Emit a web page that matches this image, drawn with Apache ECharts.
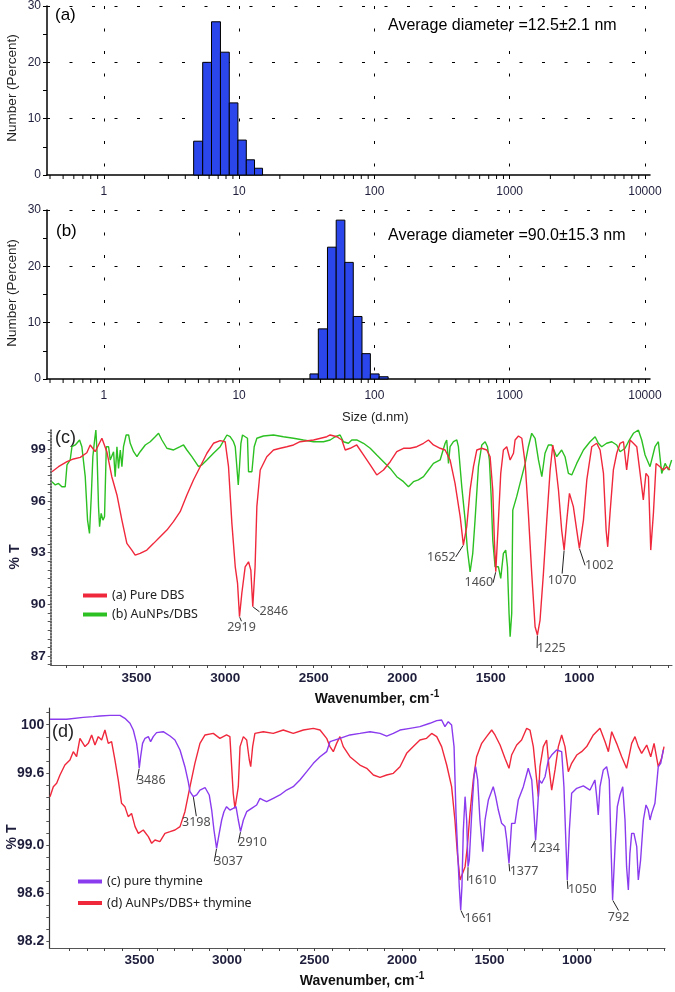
<!DOCTYPE html>
<html><head><meta charset="utf-8">
<script src="https://cdn.jsdelivr.net/npm/echarts@6.0.0/dist/echarts.min.js"></script>
<style>html,body{margin:0;padding:0;background:#fff}#c{width:675px;height:992px}</style>
</head><body><div id="c"></div>
<script>
// ---------- DATA ----------
const binEdgesA = [4.61, 5.38, 6.25, 7.28, 8.46, 9.8, 11.3, 13.0, 14.9];
const numberA   = [6.0, 20.0, 27.2, 21.8, 12.8, 6.2, 2.7, 1.2];
const binEdgesB = [33.4, 38.5, 45.0, 52.2, 60.5, 69.8, 81.0, 93.4, 108.4, 126.4];
const numberB   = [0.9, 8.9, 23.4, 28.2, 20.7, 11.1, 4.5, 0.9, 0.4];
const sizeTicks = [1, 10, 100, 1000, 10000];
const wnTicks = [3500, 3000, 2500, 2000, 1500, 1000];
const tTicksC = [87, 90, 93, 96, 99];
const tTicksD = [98.2, 98.6, 99.0, 99.6, 100];

const pureDBS = [[3978,97.70],[3941,97.99],[3893,98.28],[3856,98.44],[3818,98.53],[3781,98.80],[3762,99.25],[3734,98.86],[3696,99.64],[3668,98.86],[3640,97.41],[3611,96.35],[3583,94.89],[3555,93.54],[3527,93.15],[3508,92.86],[3480,92.96],[3442,93.15],[3404,93.54],[3367,93.93],[3329,94.31],[3292,94.80],[3254,95.38],[3216,96.35],[3179,97.22],[3141,97.99],[3103,98.77],[3066,99.35],[3028,99.50],[3000,99.44],[2981,97.99],[2962,94.70],[2943,92.18],[2930,91.22],[2919,89.28],[2906,90.63],[2887,92.18],[2868,92.47],[2855,91.99],[2844,89.86],[2831,92.18],[2821,95.67],[2802,97.80],[2765,98.57],[2727,98.96],[2689,99.06],[2652,99.15],[2614,99.25],[2577,99.44],[2501,99.54],[2426,99.73],[2407,99.83],[2369,99.73],[2341,99.54],[2322,98.96],[2294,99.06],[2257,99.25],[2219,98.67],[2181,98.09],[2144,97.51],[2106,97.80],[2068,98.28],[2031,98.86],[1993,99.06],[1956,99.06],[1918,99.15],[1880,99.35],[1852,99.54],[1824,99.25],[1786,99.06],[1758,98.96],[1730,98.38],[1702,97.02],[1673,95.09],[1655,93.44],[1636,94.51],[1617,96.64],[1598,97.99],[1579,98.96],[1551,99.06],[1523,98.96],[1504,98.57],[1489,96.64],[1480,93.73],[1472,91.89],[1457,94.89],[1444,97.60],[1429,98.96],[1410,99.15],[1391,98.38],[1372,98.77],[1363,99.54],[1344,99.77],[1325,99.64],[1306,98.18],[1288,95.28],[1269,91.80],[1250,88.70],[1237,88.22],[1222,89.09],[1203,91.80],[1184,94.89],[1165,97.80],[1150,99.25],[1137,98.38],[1118,96.64],[1100,94.31],[1086,93.15],[1071,94.89],[1056,96.44],[1034,95.67],[1015,94.31],[1000,93.25],[977,94.89],[958,97.22],[930,99.15],[902,99.35],[883,98.96],[864,97.60],[849,94.31],[840,93.34],[827,95.28],[808,97.80],[789,98.77],[770,99.35],[751,99.44],[733,97.80],[714,99.54],[695,99.35],[676,99.15],[657,97.60],[639,96.06],[624,97.60],[610,97.41],[597,93.15],[582,95.28],[567,98.18],[545,97.99],[526,97.80],[507,97.99],[488,97.80]];

const auDBS = [[3978,97.12],[3959,96.93],[3941,97.02],[3922,96.83],[3903,96.83],[3893,98.09],[3875,98.38],[3865,99.15],[3846,99.25],[3822,99.54],[3809,99.15],[3790,97.41],[3777,94.89],[3766,94.12],[3756,96.25],[3747,98.57],[3737,99.54],[3730,100.12],[3724,98.96],[3715,95.67],[3709,94.51],[3700,95.28],[3690,94.89],[3681,95.09],[3671,99.15],[3658,99.15],[3649,98.38],[3630,98.86],[3621,97.41],[3611,99.15],[3602,97.89],[3592,98.96],[3583,97.99],[3574,99.15],[3559,99.83],[3545,99.83],[3536,99.35],[3517,98.86],[3498,98.57],[3480,98.86],[3451,99.25],[3423,99.44],[3395,99.73],[3376,99.93],[3357,99.54],[3329,99.06],[3291,98.96],[3254,99.15],[3235,99.25],[3216,98.96],[3188,98.57],[3150,97.99],[3132,98.09],[3103,98.38],[3066,98.77],[3028,99.15],[2990,99.83],[2972,99.73],[2953,99.44],[2943,99.15],[2934,97.99],[2926,96.93],[2919,97.99],[2911,99.35],[2902,99.83],[2887,99.73],[2874,99.64],[2868,97.70],[2849,97.70],[2836,99.15],[2821,99.64],[2784,99.77],[2727,99.83],[2671,99.73],[2614,99.64],[2558,99.54],[2501,99.44],[2445,99.44],[2407,99.54],[2379,99.73],[2351,99.83],[2332,99.44],[2304,99.35],[2285,99.54],[2257,99.54],[2219,99.35],[2181,99.06],[2144,98.67],[2106,98.28],[2068,97.89],[2031,97.41],[1993,97.12],[1965,96.83],[1937,97.12],[1909,97.22],[1880,97.41],[1852,97.80],[1824,98.18],[1786,98.38],[1758,99.35],[1749,99.54],[1739,98.18],[1730,99.15],[1711,99.44],[1692,99.54],[1683,99.15],[1664,96.83],[1645,94.89],[1632,93.15],[1617,91.89],[1602,92.96],[1589,94.89],[1570,97.99],[1551,99.25],[1532,99.44],[1519,99.15],[1508,98.38],[1498,96.25],[1489,93.73],[1476,92.18],[1457,92.18],[1444,91.51],[1429,92.96],[1416,93.15],[1406,92.18],[1397,89.47],[1391,88.12],[1382,89.47],[1376,95.47],[1354,96.25],[1335,97.02],[1306,98.18],[1288,99.15],[1269,99.93],[1250,99.64],[1231,98.38],[1212,97.41],[1194,98.77],[1175,99.25],[1156,99.25],[1128,98.57],[1100,98.96],[1081,98.57],[1062,97.60],[1043,97.51],[1015,98.18],[977,98.96],[940,99.44],[911,99.73],[893,99.35],[874,99.15],[846,99.35],[817,99.44],[789,99.25],[770,98.86],[742,99.06],[723,99.44],[695,99.93],[667,100.12],[648,99.54],[629,98.67],[601,97.99],[573,99.15],[554,99.44],[535,97.60],[516,98.18],[497,97.80],[479,98.38]];

const pureThymine = [[4012,100.045],[3917,100.045],[3822,100.061],[3765,100.067],[3727,100.073],[3669,100.078],[3612,100.078],[3584,100.053],[3555,100.012],[3536,99.956],[3517,99.845],[3507,99.734],[3502,99.638],[3494,99.734],[3483,99.845],[3469,99.887],[3450,99.901],[3437,99.859],[3422,99.901],[3403,99.934],[3365,99.942],[3326,99.906],[3298,99.873],[3269,99.790],[3241,99.651],[3222,99.527],[3212,99.444],[3193,99.402],[3174,99.416],[3155,99.457],[3126,99.478],[3102,99.416],[3088,99.291],[3075,99.125],[3060,98.972],[3045,99.097],[3031,99.208],[3018,99.277],[3003,99.319],[2984,99.291],[2965,99.305],[2949,99.319],[2936,99.208],[2923,99.111],[2907,99.208],[2888,99.277],[2860,99.305],[2831,99.333],[2812,99.388],[2793,99.374],[2774,99.360],[2736,99.388],[2698,99.416],[2660,99.457],[2622,99.485],[2584,99.541],[2545,99.610],[2507,99.679],[2469,99.734],[2431,99.776],[2412,99.859],[2355,99.887],[2298,99.915],[2241,99.928],[2183,99.942],[2126,99.928],[2088,99.906],[2050,99.928],[2012,99.956],[1955,99.970],[1898,99.984],[1841,100.012],[1802,100.034],[1774,100.039],[1755,99.984],[1736,100.025],[1717,99.998],[1703,99.818],[1692,99.263],[1682,98.931],[1673,98.654],[1665,98.460],[1658,98.654],[1650,99.125],[1640,99.402],[1631,99.208],[1623,98.820],[1616,98.875],[1602,99.263],[1589,99.568],[1580,99.651],[1568,99.541],[1555,99.208],[1539,98.945],[1526,99.208],[1507,99.374],[1479,99.485],[1465,99.402],[1450,99.291],[1431,99.180],[1412,99.153],[1402,99.042],[1389,98.848],[1374,99.180],[1355,99.180],[1336,99.374],[1307,99.485],[1279,99.638],[1259,99.541],[1246,99.263],[1237,99.042],[1227,99.263],[1216,99.541],[1202,99.513],[1183,99.568],[1164,99.707],[1145,99.748],[1117,99.790],[1088,99.776],[1075,99.485],[1063,98.986],[1056,98.709],[1044,99.125],[1031,99.430],[1002,99.471],[964,99.491],[926,99.457],[898,99.541],[888,99.402],[879,99.250],[869,99.485],[850,99.624],[831,99.651],[816,99.541],[806,98.986],[797,98.543],[783,98.986],[770,99.319],[755,99.416],[739,99.485],[726,99.208],[717,98.820],[707,98.626],[698,98.931],[688,99.097],[675,99.097],[659,98.986],[650,98.709],[637,98.875],[621,99.208],[606,99.333],[593,99.291],[583,99.208],[574,99.263],[555,99.347],[536,99.651],[522,99.679],[507,99.790]];

const auThymine = [[4012,99.402],[3993,99.485],[3974,99.513],[3955,99.582],[3927,99.665],[3898,99.707],[3879,99.776],[3860,99.734],[3841,99.887],[3812,99.818],[3793,99.845],[3774,99.915],[3755,99.831],[3736,99.901],[3717,99.873],[3698,99.956],[3679,99.845],[3660,99.859],[3641,99.707],[3622,99.541],[3603,99.347],[3584,99.319],[3565,99.236],[3546,99.263],[3526,99.153],[3507,99.097],[3479,99.125],[3450,99.070],[3431,99.014],[3412,99.042],[3384,99.028],[3355,99.097],[3326,99.111],[3298,99.125],[3269,99.153],[3241,99.277],[3212,99.485],[3184,99.679],[3155,99.845],[3126,99.915],[3079,99.928],[3041,99.887],[3003,99.915],[2984,99.901],[2965,99.430],[2955,99.305],[2946,99.291],[2936,99.485],[2926,99.818],[2907,99.901],[2888,99.873],[2873,99.707],[2865,99.651],[2854,99.818],[2841,99.928],[2793,99.942],[2736,99.928],[2679,99.956],[2622,99.928],[2564,99.956],[2507,99.970],[2469,99.956],[2431,99.887],[2412,99.818],[2393,99.776],[2374,99.845],[2355,99.901],[2336,99.818],[2298,99.734],[2241,99.665],[2202,99.638],[2164,99.582],[2126,99.563],[2088,99.582],[2050,99.596],[2012,99.651],[1974,99.762],[1936,99.818],[1898,99.873],[1860,99.887],[1831,99.928],[1802,99.901],[1774,99.818],[1745,99.665],[1717,99.485],[1698,99.208],[1684,98.931],[1669,98.709],[1654,98.765],[1640,98.820],[1627,98.986],[1612,99.263],[1593,99.541],[1574,99.734],[1545,99.845],[1517,99.901],[1488,99.956],[1469,99.915],[1440,99.831],[1412,99.721],[1389,99.638],[1374,99.748],[1345,99.831],[1317,99.873],[1288,99.970],[1269,99.956],[1250,99.818],[1231,99.541],[1221,99.402],[1212,99.651],[1193,99.818],[1174,99.873],[1159,99.624],[1145,99.457],[1126,99.624],[1107,99.818],[1088,99.915],[1069,99.818],[1050,99.610],[1031,99.679],[1002,99.748],[974,99.776],[945,99.818],[907,99.915],[869,99.970],[840,99.859],[821,99.776],[802,99.942],[774,99.845],[745,99.734],[717,99.638],[688,99.845],[669,99.901],[650,99.818],[631,99.762],[602,99.831],[579,99.734],[560,99.845],[536,99.651],[517,99.721],[503,99.818]];

const peaksC = [[2919,89.28],[2844,89.86],[1655,93.44],[1472,91.89],[1237,88.22],[1086,93.15],[1000,93.25]];
const peakTextC = ['2919','2846','1652','1460','1225','1070','1002'];
const peaksD = [[3502,99.638],[3193,99.402],[3060,98.972],[2923,99.111],[1665,98.460],[1623,98.820],[1389,98.848],[1237,99.042],[1056,98.709],[797,98.543]];
const peakTextD = ['3486','3198','3037','2910','1661','1610','1377','1234','1050','792'];

// ---------- STYLE / LAYOUT ----------
const ARIAL = 'Liberation Sans, Arial, sans-serif';
const CAL = 'Noto Sans, sans-serif';
const BLUE = '#2b46ea', RED = '#f0283c', GREEN = '#2cc022', PURPLE = '#8a3bee';
const LABC = '#1e1e3c';
const offC = [[2,11],[21,5],[-22,12],[-17,11],[14,13],[-2,30],[20,17]];
const offD = [[12,12],[3,26],[12,13],[12,11],[18,8],[14,14],[15,8],[10,8],[15,9],[6,17]];

function histData(edges, vals){ return vals.map((v,i)=>[edges[i], edges[i+1], v]); }
function minorLog(lo, hi){
  const out=[];
  [0.1,1,10,100,1000].forEach(d=>{ for(let k=2;k<=9;k++){ const v=+(k*d).toPrecision(3); if(v>lo && v<hi) out.push([v,0]); } });
  return out;
}
function range(a,b,s){ const o=[]; for(let v=a; v<=b+1e-9; v+=s) o.push(+v.toFixed(3)); return o; }

function sizeAxis(gi){
  return {type:'log', logBase:10, gridIndex:gi, min:0.38, max:10900,
    axisLine:{onZero:false, lineStyle:{color:'#000', width:1.5}},
    axisTick:{length:4, lineStyle:{color:'#000'}},
    axisLabel:{showMinLabel:false, showMaxLabel:false, margin:11, fontFamily:ARIAL, fontSize:12, color:LABC,
      formatter:v=>{const r=Math.round(v); return (Math.abs(v-r)<1e-6 && sizeTicks.indexOf(r)>=0)?String(r):'';}},
    splitLine:{show:true, showMinLine:false, showMaxLine:false, lineStyle:{color:'#000', type:[3,19.5], width:1}}};
}
function pctAxis(gi){
  return {type:'value', gridIndex:gi, min:0, max:30, interval:10,
    axisLine:{show:true, lineStyle:{color:'#000', width:1.5}},
    axisTick:{show:true, length:4, lineStyle:{color:'#000'}},
    minorTick:{show:true, splitNumber:2, length:4, lineStyle:{color:'#000'}},
    axisLabel:{margin:6, fontFamily:ARIAL, fontSize:12, color:LABC},
    splitLine:{show:true, showMinLine:false, lineStyle:{color:'#000', type:[3,19.5], width:1}}};
}
function histSeries(gi, data){
  return {type:'custom', xAxisIndex:gi, yAxisIndex:gi, data, encode:{x:[0,1], y:2}, silent:true,
    renderItem:(p, api)=>{
      const a=api.coord([api.value(0),0]), b=api.coord([api.value(1),api.value(2)]);
      return {type:'rect', shape:{x:a[0], y:b[1], width:b[0]-a[0], height:a[1]-b[1]},
        style:{fill:BLUE, stroke:'#000', lineWidth:1}};
    }};
}
function minorSeries(gi){
  return {type:'custom', xAxisIndex:gi, yAxisIndex:gi, data:minorLog(0.38,10900), encode:{x:0,y:1}, silent:true, clip:false,
    renderItem:(p, api)=>{ const a=api.coord([api.value(0),0]);
      return {type:'line', shape:{x1:a[0], y1:a[1], x2:a[0], y2:a[1]+4}, style:{stroke:'#000', lineWidth:1}}; }};
}
function wnAxis(gi, min, max, margin){
  return {type:'value', gridIndex:gi, inverse:true, min, max,
    axisLine:{onZero:false, lineStyle:{color:'#555', width:1}},
    axisTick:{show:true, length:3, customValues:range(500,3900,100), lineStyle:{color:'#444'}},
    axisLabel:{customValues:wnTicks, margin, fontFamily:ARIAL, fontWeight:'bold', fontSize:13.5, color:LABC,
      formatter:v=>String(Math.round(v))},
    splitLine:{show:false}};
}
function lineSeries(gi, name, data, color){
  return {type:'line', name, xAxisIndex:gi, yAxisIndex:gi, data, showSymbol:false, symbol:'none',
    lineStyle:{color, width:1.4}, itemStyle:{color}, silent:true};
}
function peakSeries(gi, pts, texts, offs){
  return {type:'scatter', xAxisIndex:gi, yAxisIndex:gi, data:pts, symbolSize:1, silent:true, z:5,
    itemStyle:{color:'rgba(0,0,0,0)'},
    label:{show:true, position:'inside', formatter:p=>texts[p.dataIndex], fontFamily:CAL, fontSize:12.5, color:'#222'},
    labelLayout:p=>({dx:offs[p.dataIndex][0], dy:offs[p.dataIndex][1]}),
    labelLine:{show:true, length2:0, lineStyle:{color:'#222', width:1}}};
}
function txt(x, y, text, size, extra){
  return Object.assign({type:'text', x, y, silent:true,
    style:Object.assign({text, fontFamily:ARIAL, fontSize:size, fill:'#000', verticalAlign:'middle', align:'left'}, extra||{})});
}
const supRich = {
  m:{fontSize:14, fontWeight:'bold', fontFamily:ARIAL, verticalAlign:'bottom', lineHeight:16},
  s:{fontSize:10, fontWeight:'bold', fontFamily:ARIAL, verticalAlign:'bottom', lineHeight:10, padding:[0,0,7,1]}
};

const chart = echarts.init(document.getElementById('c'), null, {renderer:'canvas', width:675, height:992});
chart.setOption({
  animation:false,
  backgroundColor:'#fff',
  grid:[
    {left:47, right:25, top:6, bottom:817},
    {left:47, right:25, top:210, bottom:613},
    {left:50.7, right:3, top:430, bottom:327},
    {left:49.3, right:10, top:708, bottom:44}
  ],
  xAxis:[ sizeAxis(0), sizeAxis(1), wnAxis(2, 477, 3985, 6), wnAxis(3, 497.5, 4016, 5) ],
  yAxis:[ pctAxis(0), pctAxis(1),
    {type:'value', gridIndex:2, min:86.48, max:100.12,
      axisLine:{show:true, lineStyle:{color:'#333', width:1.5, type:'dotted'}},
      axisTick:{show:true, length:3, customValues:range(86.5,100,0.5), lineStyle:{color:'#555'}},
      axisLabel:{customValues:tTicksC, margin:5, fontFamily:ARIAL, fontWeight:'bold', fontSize:13.5, color:LABC},
      splitLine:{show:false}},
    {type:'value', gridIndex:3, min:98.144, max:100.139,
      axisLine:{show:true, lineStyle:{color:'#333', width:1.2}},
      axisTick:{show:true, length:3, customValues:range(98.2,100.1,0.1), lineStyle:{color:'#555'}},
      axisLabel:{customValues:tTicksD, margin:5, fontFamily:ARIAL, fontWeight:'bold', fontSize:14, color:LABC,
        formatter:v=>Math.abs(v-100)<1e-6?'100':Number(v).toFixed(1)},
      splitLine:{show:false}}
  ],
  legend:[
    {data:['(a) Pure DBS','(b) AuNPs/DBS'], left:78, top:584, orient:'vertical', icon:'rect', itemWidth:24, itemHeight:4, itemGap:6,
      selectedMode:false, textStyle:{fontFamily:CAL, fontSize:12.5, color:'#222'}},
    {data:['(c) pure thymine','(d) AuNPs/DBS+ thymine'], left:73, top:870, orient:'vertical', icon:'rect', itemWidth:24, itemHeight:4, itemGap:8.5,
      selectedMode:false, textStyle:{fontFamily:CAL, fontSize:12.5, color:'#222'}}
  ],
  series:[
    histSeries(0, histData(binEdgesA, numberA)),
    minorSeries(0),
    histSeries(1, histData(binEdgesB, numberB)),
    minorSeries(1),
    lineSeries(2, '(b) AuNPs/DBS', auDBS, GREEN),
    lineSeries(2, '(a) Pure DBS', pureDBS, RED),
    peakSeries(2, peaksC, peakTextC, offC),
    lineSeries(3, '(d) AuNPs/DBS+ thymine', auThymine, RED),
    lineSeries(3, '(c) pure thymine', pureThymine, PURPLE),
    peakSeries(3, peaksD, peakTextD, offD)
  ],
  graphic:[
    txt(55, 15, '(a)', 17),
    txt(388, 26, 'Average diameter =12.5\u00b12.1 nm', 16),
    txt(56, 231, '(b)', 17),
    txt(388, 236, 'Average diameter =90.0\u00b115.3 nm', 16),
    txt(342, 417, 'Size (d.nm)', 13, {fill:'#222'}),
    Object.assign(txt(12, 88, 'Number (Percent)', 13.5, {align:'center', fill:'#222'}), {rotation:Math.PI/2}),
    Object.assign(txt(12, 293, 'Number (Percent)', 13.5, {align:'center', fill:'#222'}), {rotation:Math.PI/2}),
    txt(55, 438, '(c)', 18, {fill:'#222'}),
    txt(52, 732, '(d)', 18, {fill:'#222'}),
    Object.assign(txt(15, 557, '% T', 14, {align:'center', fontWeight:'bold', fill:'#1e1e3c'}), {rotation:Math.PI/2}),
    Object.assign(txt(12, 837, '% T', 14, {align:'center', fontWeight:'bold', fill:'#1e1e3c'}), {rotation:Math.PI/2}),
    txt(377, 698, '{m|Wavenumber, cm}{s|-1}', 14, {align:'center', fontWeight:'bold', fill:'#111', rich:supRich}),
    txt(362, 980, '{m|Wavenumber, cm}{s|-1}', 14, {align:'center', fontWeight:'bold', fill:'#111', rich:supRich})
  ]
});
</script>
</body></html>
